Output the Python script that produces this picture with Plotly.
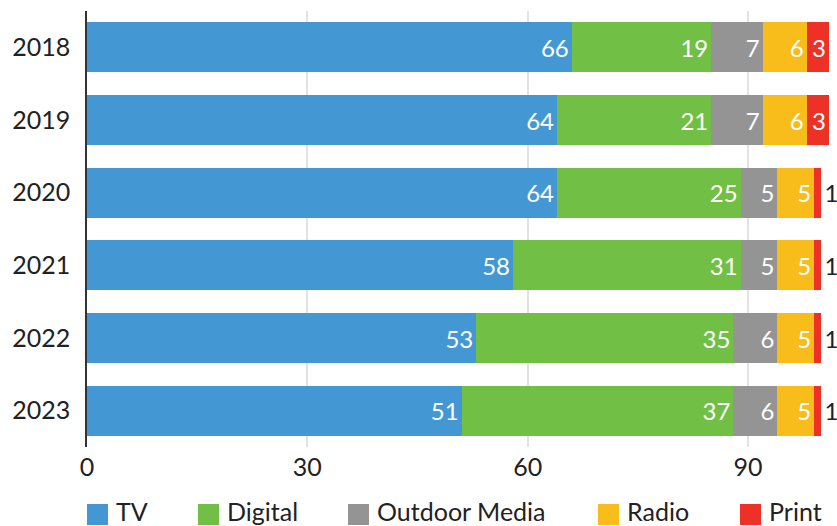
import plotly.graph_objects as go

years = ["2018", "2019", "2020", "2021", "2022", "2023"]
tv = [66, 64, 64, 58, 53, 51]
digital = [19, 21, 25, 31, 35, 37]
outdoor = [7, 7, 5, 5, 6, 6]
radio = [6, 6, 5, 5, 5, 5]
printv = [3, 3, 1, 1, 1, 1]
x_ticks = [0, 30, 60, 90]

series = [
    ("TV", tv, "#4398d3"),
    ("Digital", digital, "#72bf45"),
    ("Outdoor Media", outdoor, "#949494"),
    ("Radio", radio, "#f8bc1b"),
    ("Print", printv, "#ee3126"),
]

W, H = 837, 526
ML, MR, MT, MB = 87, 6, 11, 79
PW, PH = W - ML - MR, H - MT - MB

def px(xp):
    return (xp - ML) / PW

def py(yp):
    return (H - MB - yp) / PH

FONT = "Lato, 'Open Sans', sans-serif"
fig = go.Figure()
for name, vals, col in series:
    pos = ["inside" if v >= 3 else "outside" for v in vals]
    fig.add_trace(go.Bar(
        y=years, x=vals, name=name, orientation="h",
        marker=dict(color=col, line=dict(width=0)),
        text=[str(v) for v in vals], textposition=pos,
        insidetextanchor="end",
        insidetextfont=dict(color="white", size=24, family=FONT),
        outsidetextfont=dict(color="#222222", size=24, family=FONT),
        cliponaxis=False,
        hoverinfo="x+y+name",
        showlegend=False,
    ))

# custom legend (layout decoration)
legend_left = [87, 198, 348, 598, 740]
shapes, annotations = [], []
for (name, _, col), lx in zip(series, legend_left):
    shapes.append(dict(type="rect", xref="paper", yref="paper",
                       x0=px(lx), x1=px(lx + 21), y0=py(525), y1=py(504),
                       fillcolor=col, line=dict(width=0)))
    annotations.append(dict(text=name, xref="paper", yref="paper",
                            x=px(lx + 27), y=py(511), xanchor="left", yanchor="middle",
                            showarrow=False, font=dict(size=25, color="#222222", family=FONT)))

fig.update_layout(
    barmode="stack",
    bargap=0.31,
    width=W, height=H,
    margin=dict(l=ML, r=MR, t=MT, b=MB, autoexpand=False),
    paper_bgcolor="white", plot_bgcolor="white",
    font=dict(family=FONT, size=25, color="#222222"),
    uniformtext=dict(minsize=24, mode="show"),
    showlegend=False,
    shapes=shapes,
    annotations=annotations,
    xaxis=dict(range=[0, 101.3], tickvals=x_ticks, showgrid=True, gridcolor="#e2e2e2",
               gridwidth=2, zeroline=False, showline=False, ticks="",
               tickfont=dict(size=25), ticklabelstandoff=3, automargin=False),
    yaxis=dict(categoryorder="array", categoryarray=years[::-1], showline=True,
               linecolor="#333333", linewidth=1.5, ticks="", tickfont=dict(size=25),
               ticklabelstandoff=10, showgrid=False, automargin=False),
)
fig.write_html("out.html", config={"displayModeBar": False},
               post_script="document.body.style.margin='0';document.body.style.overflow='hidden';")
